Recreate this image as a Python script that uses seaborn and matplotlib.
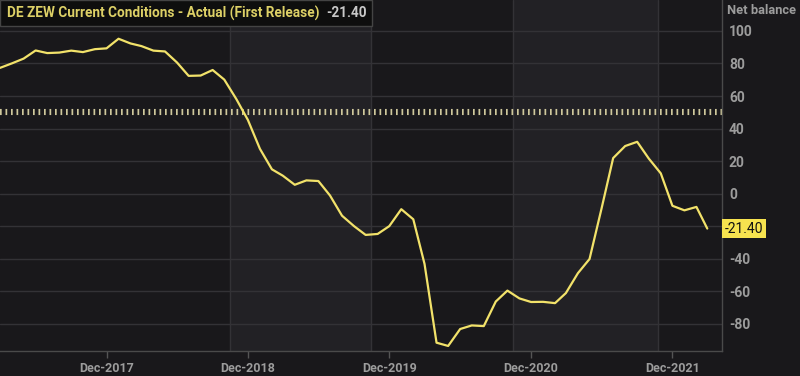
import pandas as pd
import seaborn as sns
import matplotlib.pyplot as plt
from matplotlib.patches import Rectangle

# monthly ZEW current conditions, Mar-2017 .. Mar-2022
start_month = "2017-03-01"
zew_values = [77.3, 80.1, 83.0, 88.0, 86.4, 86.7, 87.9, 87.0, 88.8, 89.3,
              95.2, 92.3, 90.7, 87.9, 87.4, 80.6, 72.4, 72.6, 76.0, 70.1, 58.2, 45.3,
              27.6, 15.0, 11.1, 5.5, 8.2, 7.8, -1.1, -13.5, -19.9, -25.3, -24.7, -19.9,
              -9.5, -15.7, -43.1, -91.5, -93.5, -83.1, -80.9, -81.3, -66.2, -59.5, -64.3, -66.5,
              -66.4, -67.2, -61.0, -48.8, -40.1, -9.1, 21.9, 29.3, 31.9, 21.6, 12.5, -7.4,
              -10.2, -8.1, -21.4]
reference_level = 50
x_ticks = ["2017-12-01", "2018-12-01", "2019-12-01", "2020-12-01", "2021-12-01"]
x_tick_labels = ["Dec-2017", "Dec-2018", "Dec-2019", "Dec-2020", "Dec-2021"]
year_bounds = ["2017-02-20", "2018-10-15", "2019-10-15", "2020-10-15", "2021-10-25", "2022-04-10"]
y_ticks = [-80, -60, -40, -20, 0, 20, 40, 60, 80, 100]
y_tick_labels = ["-80", "-60", "-40", "", "0", "20", "40", "60", "80", "100"]
title_text = "DE ZEW Current Conditions - Actual (First Release)"
last_text = "-21.40"

df = pd.DataFrame({
    "date": pd.date_range(start_month, periods=len(zew_values), freq="MS"),
    "value": zew_values,
})

sns.set_theme(style="dark")
plt.rcParams['font.family'] = ['Roboto', 'DejaVu Sans']

bg_dark = "#19181b"
bg_light = "#222125"
grid_c = "#333236"
label_c = "#9c9c9c"
line_c = "#f2e26a"

fig = plt.figure(figsize=(8, 3.76), dpi=100, facecolor=bg_dark)
ax = fig.add_axes([0, 25 / 376, 722 / 800, 1 - 25 / 376])
ax.set_facecolor(bg_dark)

# alternating year bands
for i in range(len(year_bounds) - 1):
    if i % 2 == 1:
        ax.axvspan(pd.Timestamp(year_bounds[i]), pd.Timestamp(year_bounds[i + 1]),
                   color=bg_light, zorder=0, lw=0)
for b in year_bounds[1:-1]:
    ax.axvline(pd.Timestamp(b), color=grid_c, lw=1, zorder=0.5)
for t in y_ticks:
    ax.axhline(t, color=grid_c, lw=1, zorder=0.5)

ax.axhline(reference_level, color="#cfc89c", lw=4.4, linestyle=(0, (0.28, 0.62)), zorder=1)

sns.lineplot(data=df, x="date", y="value", ax=ax, color=line_c, lw=1.6, zorder=3)

ax.set_xlim(pd.Timestamp("2017-03-01"), pd.Timestamp("2022-04-08"))
ax.set_ylim(-96.6, 119)
ax.grid(False)

ax.set_xticks([pd.Timestamp(t) for t in x_ticks])
ax.set_xticklabels(x_tick_labels)
ax.tick_params(axis="x", length=5, width=1, color="#555555", colors=label_c,
               labelsize=9, pad=3, bottom=True)
for lab in ax.get_xticklabels():
    lab.set_fontweight("bold")

ax.yaxis.tick_right()
ax.set_yticks(y_ticks)
ax.set_yticklabels(y_tick_labels)
ax.tick_params(axis="y", length=0, colors=label_c, labelsize=10, pad=5)
for lab in ax.get_yticklabels():
    lab.set_fontweight("bold")
ax.set_xlabel("")
ax.set_ylabel("")

for side in ["top", "left"]:
    ax.spines[side].set_visible(False)
for side in ["right", "bottom"]:
    ax.spines[side].set_visible(True)
    ax.spines[side].set_color("#4a4a4a")
    ax.spines[side].set_linewidth(1)

# last value tag
ax.text(1.004, zew_values[-1], last_text, transform=ax.get_yaxis_transform(),
        ha="left", va="center", fontsize=10, color="#111111", clip_on=False, zorder=5,
        bbox=dict(boxstyle="square,pad=0.2", fc="#f7e34f", ec="none"))

fig.text(727 / 800, 1 - 10 / 376, "Net balance", ha="left", va="center",
         fontsize=9.3, color=label_c, fontweight="bold")

# header box
fig.patches.append(Rectangle((0, 1 - 26 / 376), 372 / 800, 26 / 376, transform=fig.transFigure,
                             fc="#0e0e0e", ec="#444444", lw=1, zorder=9))
fig.text(7 / 800, 1 - 13 / 376, title_text, ha="left", va="center", fontsize=9.8,
         color="#ddd066", fontweight="bold", zorder=10)
fig.text(326 / 800, 1 - 13 / 376, last_text, ha="left", va="center", fontsize=9.8,
         color="#c8c8c8", fontweight="bold", zorder=11)

fig.savefig("out.png", dpi=100, facecolor=fig.get_facecolor())
